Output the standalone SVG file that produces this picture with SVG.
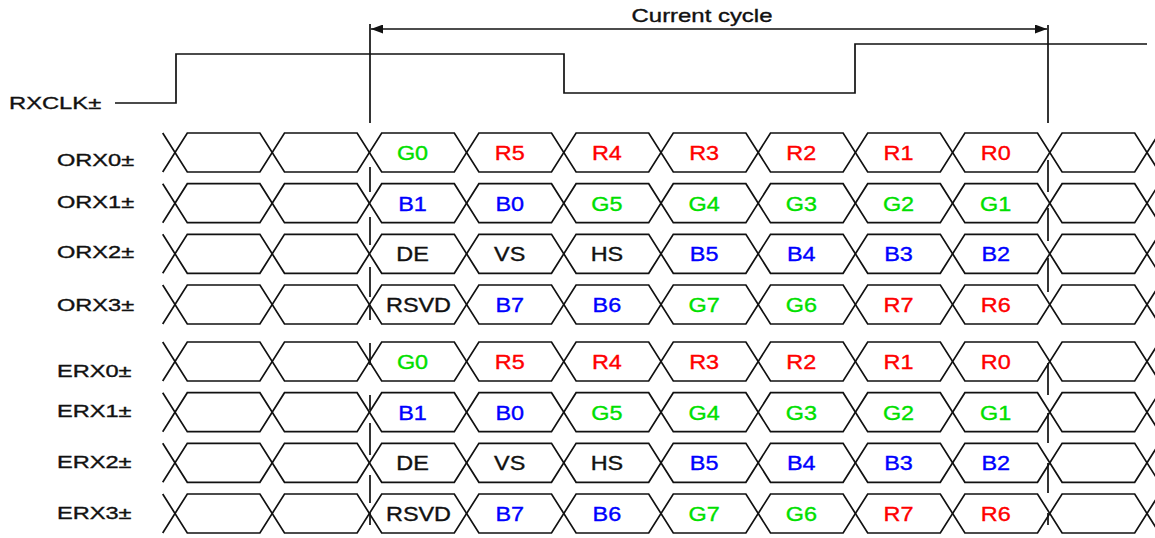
<svg xmlns="http://www.w3.org/2000/svg" xmlns:xlink="http://www.w3.org/1999/xlink" width="1155" height="538" viewBox="0 0 1155 538">
<style>
  text { font-family: "Liberation Sans", Arial, sans-serif; stroke-width: 0.35; }
  .lbl { font-size: 16.5px; fill: #111; stroke: #111; }
  .cell { font-size: 19.5px; text-anchor: middle; }
  .title { font-size: 18px; text-anchor: middle; fill: #111; stroke: #111; }
  .g { fill: #00e000; stroke: #00e000; }
  .r { fill: #ff0000; stroke: #ff0000; }
  .b { fill: #0000ff; stroke: #0000ff; }
  .k { fill: #111; stroke: #111; }
  .wire { fill: none; stroke: #111; stroke-width: 1.7; }
  .dash { stroke: #111; stroke-width: 1.7; }
</style>
<defs>
  <marker id="ah" viewBox="0 0 12 9" refX="12" refY="4.5" markerWidth="12" markerHeight="9" markerUnits="userSpaceOnUse" orient="auto-start-reverse">
    <path d="M0,0 L12,4.5 L0,9 Z" fill="#111"/>
  </marker>
  <g id="wave">
    <polyline class="wire" points="162.7,0 187.3,39 259.9,39 284.5,0 357.1,0 381.7,39 454.3,39 478.9,0 551.5,0 576.1,39 648.7,39 673.3,0 745.9,0 770.5,39 843.1,39 867.7,0 940.3,0 964.9,39 1037.5,39 1062.1,0 1134.7,0 1159.3,39"/>
    <polyline class="wire" points="162.7,39 187.3,0 259.9,0 284.5,39 357.1,39 381.7,0 454.3,0 478.9,39 551.5,39 576.1,0 648.7,0 673.3,39 745.9,39 770.5,0 843.1,0 867.7,39 940.3,39 964.9,0 1037.5,0 1062.1,39 1134.7,39 1159.3,0"/>
  </g>
</defs>
<rect width="1155" height="538" fill="#fff"/>

<g id="connectors">
  <line class="dash" x1="370" y1="24" x2="370" y2="123"/>
  <line class="dash" x1="1048" y1="25" x2="1048" y2="123"/>
  <line class="dash" x1="371" y1="29" x2="1047" y2="29" marker-start="url(#ah)" marker-end="url(#ah)"/>
  <path class="dash" d="M370,167 V192 M370,217 V245 M370,267 V297 M370,305 V320 M370,343 V365 M370,395 V410 M370,423 V455 M370,475 V503 M370,513 V525"/>
  <path class="dash" d="M1048,160 V192 M1048,208 V241 M1048,258 V292 M1048,363 V395 M1048,413 V443 M1048,463 V493 M1048,513 V525"/>
</g>

<g id="title">
  <text class="title" transform="translate(702,22) scale(1.33,1)">Current cycle</text>
</g>

<g id="rxclk">
  <text class="lbl" transform="translate(9,109) scale(1.44,1)">RXCLK±</text>
  <path class="wire" d="M115,103 H176 V54 H564 V93 H855 V44 H1147"/>
</g>

<g id="orx0">
  <text class="lbl" transform="translate(57,166) scale(1.43,1)">ORX0±</text>
  <use xlink:href="#wave" transform="translate(0,133)"/>
  <text class="cell g" transform="translate(412.5,160) scale(1.2,1)">G0</text>
  <text class="cell r" transform="translate(509.7,160) scale(1.2,1)">R5</text>
  <text class="cell r" transform="translate(606.9,160) scale(1.2,1)">R4</text>
  <text class="cell r" transform="translate(704.1,160) scale(1.2,1)">R3</text>
  <text class="cell r" transform="translate(801.3,160) scale(1.2,1)">R2</text>
  <text class="cell r" transform="translate(898.5,160) scale(1.2,1)">R1</text>
  <text class="cell r" transform="translate(995.7,160) scale(1.2,1)">R0</text>
</g>

<g id="orx1">
  <text class="lbl" transform="translate(57,208) scale(1.43,1)">ORX1±</text>
  <use xlink:href="#wave" transform="translate(0,183.7)"/>
  <text class="cell b" transform="translate(412.5,210.7) scale(1.2,1)">B1</text>
  <text class="cell b" transform="translate(509.7,210.7) scale(1.2,1)">B0</text>
  <text class="cell g" transform="translate(606.9,210.7) scale(1.2,1)">G5</text>
  <text class="cell g" transform="translate(704.1,210.7) scale(1.2,1)">G4</text>
  <text class="cell g" transform="translate(801.3,210.7) scale(1.2,1)">G3</text>
  <text class="cell g" transform="translate(898.5,210.7) scale(1.2,1)">G2</text>
  <text class="cell g" transform="translate(995.7,210.7) scale(1.2,1)">G1</text>
</g>

<g id="orx2">
  <text class="lbl" transform="translate(57,258) scale(1.43,1)">ORX2±</text>
  <use xlink:href="#wave" transform="translate(0,234.3)"/>
  <text class="cell k" transform="translate(412.5,261.3) scale(1.2,1)">DE</text>
  <text class="cell k" transform="translate(509.7,261.3) scale(1.2,1)">VS</text>
  <text class="cell k" transform="translate(606.9,261.3) scale(1.2,1)">HS</text>
  <text class="cell b" transform="translate(704.1,261.3) scale(1.2,1)">B5</text>
  <text class="cell b" transform="translate(801.3,261.3) scale(1.2,1)">B4</text>
  <text class="cell b" transform="translate(898.5,261.3) scale(1.2,1)">B3</text>
  <text class="cell b" transform="translate(995.7,261.3) scale(1.2,1)">B2</text>
</g>

<g id="orx3">
  <text class="lbl" transform="translate(57,311) scale(1.43,1)">ORX3±</text>
  <use xlink:href="#wave" transform="translate(0,285)"/>
  <text class="cell k" transform="translate(418.5,312) scale(1.2,1)">RSVD</text>
  <text class="cell b" transform="translate(509.7,312) scale(1.2,1)">B7</text>
  <text class="cell b" transform="translate(606.9,312) scale(1.2,1)">B6</text>
  <text class="cell g" transform="translate(704.1,312) scale(1.2,1)">G7</text>
  <text class="cell g" transform="translate(801.3,312) scale(1.2,1)">G6</text>
  <text class="cell r" transform="translate(898.5,312) scale(1.2,1)">R7</text>
  <text class="cell r" transform="translate(995.7,312) scale(1.2,1)">R6</text>
</g>

<g id="erx0">
  <text class="lbl" transform="translate(57,377) scale(1.43,1)">ERX0±</text>
  <use xlink:href="#wave" transform="translate(0,342)"/>
  <text class="cell g" transform="translate(412.5,369) scale(1.2,1)">G0</text>
  <text class="cell r" transform="translate(509.7,369) scale(1.2,1)">R5</text>
  <text class="cell r" transform="translate(606.9,369) scale(1.2,1)">R4</text>
  <text class="cell r" transform="translate(704.1,369) scale(1.2,1)">R3</text>
  <text class="cell r" transform="translate(801.3,369) scale(1.2,1)">R2</text>
  <text class="cell r" transform="translate(898.5,369) scale(1.2,1)">R1</text>
  <text class="cell r" transform="translate(995.7,369) scale(1.2,1)">R0</text>
</g>

<g id="erx1">
  <text class="lbl" transform="translate(57,417) scale(1.43,1)">ERX1±</text>
  <use xlink:href="#wave" transform="translate(0,392.7)"/>
  <text class="cell b" transform="translate(412.5,419.7) scale(1.2,1)">B1</text>
  <text class="cell b" transform="translate(509.7,419.7) scale(1.2,1)">B0</text>
  <text class="cell g" transform="translate(606.9,419.7) scale(1.2,1)">G5</text>
  <text class="cell g" transform="translate(704.1,419.7) scale(1.2,1)">G4</text>
  <text class="cell g" transform="translate(801.3,419.7) scale(1.2,1)">G3</text>
  <text class="cell g" transform="translate(898.5,419.7) scale(1.2,1)">G2</text>
  <text class="cell g" transform="translate(995.7,419.7) scale(1.2,1)">G1</text>
</g>

<g id="erx2">
  <text class="lbl" transform="translate(57,468) scale(1.43,1)">ERX2±</text>
  <use xlink:href="#wave" transform="translate(0,443.3)"/>
  <text class="cell k" transform="translate(412.5,470.3) scale(1.2,1)">DE</text>
  <text class="cell k" transform="translate(509.7,470.3) scale(1.2,1)">VS</text>
  <text class="cell k" transform="translate(606.9,470.3) scale(1.2,1)">HS</text>
  <text class="cell b" transform="translate(704.1,470.3) scale(1.2,1)">B5</text>
  <text class="cell b" transform="translate(801.3,470.3) scale(1.2,1)">B4</text>
  <text class="cell b" transform="translate(898.5,470.3) scale(1.2,1)">B3</text>
  <text class="cell b" transform="translate(995.7,470.3) scale(1.2,1)">B2</text>
</g>

<g id="erx3">
  <text class="lbl" transform="translate(57,519) scale(1.43,1)">ERX3±</text>
  <use xlink:href="#wave" transform="translate(0,494)"/>
  <text class="cell k" transform="translate(418.5,521) scale(1.2,1)">RSVD</text>
  <text class="cell b" transform="translate(509.7,521) scale(1.2,1)">B7</text>
  <text class="cell b" transform="translate(606.9,521) scale(1.2,1)">B6</text>
  <text class="cell g" transform="translate(704.1,521) scale(1.2,1)">G7</text>
  <text class="cell g" transform="translate(801.3,521) scale(1.2,1)">G6</text>
  <text class="cell r" transform="translate(898.5,521) scale(1.2,1)">R7</text>
  <text class="cell r" transform="translate(995.7,521) scale(1.2,1)">R6</text>
</g>
</svg>
